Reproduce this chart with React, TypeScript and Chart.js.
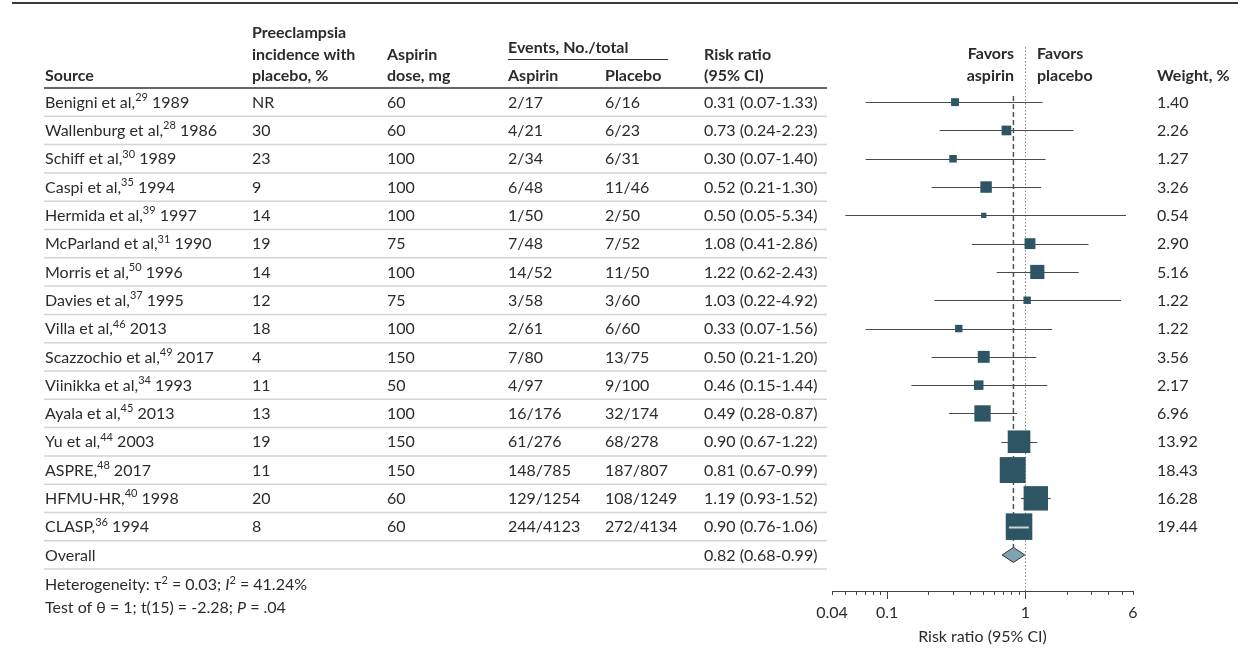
import React, { useEffect, useRef } from "react";
import { Chart, registerables } from "chart.js";

Chart.register(...registerables);

// ---------------- data ----------------
const studyNames = [
  "Benigni et al,", "Wallenburg et al,", "Schiff et al,", "Caspi et al,", "Hermida et al,",
  "McParland et al,", "Morris et al,", "Davies et al,", "Villa et al,", "Scazzochio et al,",
  "Viinikka et al,", "Ayala et al,", "Yu et al,", "ASPRE,", "HFMU-HR,", "CLASP,",
];
const refNumbers = ["29", "28", "30", "35", "39", "31", "50", "37", "46", "49", "34", "45", "44", "48", "40", "36"];
const studyYears = ["1989", "1986", "1989", "1994", "1997", "1990", "1996", "1995", "2013", "2017", "1993", "2013", "2003", "2017", "1998", "1994"];
const placeboIncidence = ["NR", "30", "23", "9", "14", "19", "14", "12", "18", "4", "11", "13", "19", "11", "20", "8"];
const aspirinDose = ["60", "60", "100", "100", "100", "75", "100", "75", "100", "150", "50", "100", "150", "150", "60", "60"];
const aspirinEvents = ["2/17", "4/21", "2/34", "6/48", "1/50", "7/48", "14/52", "3/58", "2/61", "7/80", "4/97", "16/176", "61/276", "148/785", "129/1254", "244/4123"];
const placeboEvents = ["6/16", "6/23", "6/31", "11/46", "2/50", "7/52", "11/50", "3/60", "6/60", "13/75", "9/100", "32/174", "68/278", "187/807", "108/1249", "272/4134"];
const riskRatio = [0.31, 0.73, 0.30, 0.52, 0.50, 1.08, 1.22, 1.03, 0.33, 0.50, 0.46, 0.49, 0.90, 0.81, 1.19, 0.90];
const ciLower = [0.07, 0.24, 0.07, 0.21, 0.05, 0.41, 0.62, 0.22, 0.07, 0.21, 0.15, 0.28, 0.67, 0.67, 0.93, 0.76];
const ciUpper = [1.33, 2.23, 1.40, 1.30, 5.34, 2.86, 2.43, 4.92, 1.56, 1.20, 1.44, 0.87, 1.22, 0.99, 1.52, 1.06];
const weightPct = [1.40, 2.26, 1.27, 3.26, 0.54, 2.90, 5.16, 1.22, 1.22, 3.56, 2.17, 6.96, 13.92, 18.43, 16.28, 19.44];
const overallRR = 0.82;
const overallLow = 0.68;
const overallHigh = 0.99;
const axisTickValues = [0.04, 0.05, 0.06, 0.07, 0.08, 0.09, 0.1, 0.2, 0.3, 0.4, 0.5, 0.6, 0.7, 0.8, 0.9, 1, 2, 3, 4, 5, 6];
const axisMajorTicks = [0.1, 1];
const axisLabelValues = [0.04, 0.1, 1, 6];
const axisLabels = ["0.04", "0.1", "1", "6"];

// ---------------- style ----------------
const FONT = "Lato, 'DejaVu Sans', sans-serif";
const TEXT = "#2b2b2b";
const AXIS = "#444";
const BOX = "#2e5563";
const DIAMOND = "#7fa3b3";
const BODY = `16px ${FONT}`;
const BOLD = `bold 16px ${FONT}`;
const SUP = `11px ${FONT}`;
const ITAL = `italic 16px ${FONT}`;
const COL = { source: 45, incidence: 252, dose: 387, aspEv: 508, plaEv: 605, rr: 704, weight: 1157 };
const TABLE_RIGHT = 827;
const LIGHT_WHISKER_ROWS = [15];

type Part = { t: string; f: string; dy?: number };

function drawParts(ctx: CanvasRenderingContext2D, parts: Part[], x: number, y: number) {
  let cx = x;
  for (const p of parts) {
    ctx.font = p.f;
    ctx.fillText(p.t, cx, y + (p.dy || 0));
    cx += ctx.measureText(p.t).width;
  }
}

function boxSide(w: number) {
  return 1 + 5.8 * Math.sqrt(w);
}

const forestPlugin = {
  id: "forest",
  beforeDatasetsDraw(chart: any) {
    const ctx: CanvasRenderingContext2D = chart.ctx;
    const xs = chart.scales.x;
    const ys = chart.scales.y;
    const area = chart.chartArea;
    ctx.save();
    // top rule
    ctx.strokeStyle = "#3a3a3a";
    ctx.lineWidth = 2;
    ctx.beginPath();
    ctx.moveTo(12, 3);
    ctx.lineTo(1238, 3);
    ctx.stroke();
    // header rule
    ctx.lineWidth = 1.6;
    ctx.strokeStyle = "#333";
    const hy = ys.getPixelForValue(-0.5);
    ctx.beginPath();
    ctx.moveTo(44, hy);
    ctx.lineTo(TABLE_RIGHT, hy);
    ctx.stroke();
    // events underline
    ctx.lineWidth = 1;
    ctx.beginPath();
    ctx.moveTo(COL.aspEv, 59.5);
    ctx.lineTo(668, 59.5);
    ctx.stroke();
    // row separators
    ctx.strokeStyle = "#d4d4d4";
    ctx.lineWidth = 1.5;
    for (let i = 0; i <= studyNames.length; i++) {
      const y = ys.getPixelForValue(i + 0.5);
      ctx.beginPath();
      ctx.moveTo(44, y);
      ctx.lineTo(TABLE_RIGHT, y);
      ctx.stroke();
    }
    // dotted null line
    const x1 = Math.round(xs.getPixelForValue(1)) + 0.5;
    ctx.strokeStyle = "#8a8a8a";
    ctx.lineWidth = 1;
    ctx.setLineDash([1.5, 2]);
    ctx.beginPath();
    ctx.moveTo(x1, 47);
    ctx.lineTo(x1, area.bottom);
    ctx.stroke();
    // dashed overall line
    const xo = xs.getPixelForValue(overallRR);
    const yd = ys.getPixelForValue(studyNames.length);
    ctx.strokeStyle = "#505050";
    ctx.lineWidth = 1.5;
    ctx.setLineDash([5, 3]);
    ctx.beginPath();
    ctx.moveTo(xo, hy + 8);
    ctx.lineTo(xo, yd - 7);
    ctx.stroke();
    ctx.setLineDash([]);
    // whiskers
    ctx.strokeStyle = "#4a4a4a";
    ctx.lineWidth = 1.2;
    for (let i = 0; i < riskRatio.length; i++) {
      const y = Math.round(ys.getPixelForValue(i)) + 0.5;
      ctx.beginPath();
      ctx.moveTo(xs.getPixelForValue(ciLower[i]), y);
      ctx.lineTo(xs.getPixelForValue(ciUpper[i]), y);
      ctx.stroke();
    }
    ctx.restore();
  },
  afterDatasetsDraw(chart: any) {
    const ctx: CanvasRenderingContext2D = chart.ctx;
    const xs = chart.scales.x;
    const ys = chart.scales.y;
    const area = chart.chartArea;
    ctx.save();
    // light whiskers inside large boxes
    ctx.strokeStyle = "rgba(215,225,230,0.9)";
    ctx.lineWidth = 2;
    for (const i of LIGHT_WHISKER_ROWS) {
      const y = Math.round(ys.getPixelForValue(i)) + 0.5;
      ctx.beginPath();
      ctx.moveTo(xs.getPixelForValue(ciLower[i]), y);
      ctx.lineTo(xs.getPixelForValue(ciUpper[i]), y);
      ctx.stroke();
    }
    // diamond
    const yd = ys.getPixelForValue(studyNames.length);
    ctx.beginPath();
    ctx.moveTo(xs.getPixelForValue(overallLow), yd);
    ctx.lineTo(xs.getPixelForValue(overallRR), yd - 7.5);
    ctx.lineTo(xs.getPixelForValue(overallHigh), yd);
    ctx.lineTo(xs.getPixelForValue(overallRR), yd + 7.5);
    ctx.closePath();
    ctx.fillStyle = DIAMOND;
    ctx.fill();
    ctx.strokeStyle = "#333";
    ctx.lineWidth = 1;
    ctx.stroke();
    // major ticks longer
    ctx.strokeStyle = AXIS;
    ctx.lineWidth = 1;
    for (const v of axisMajorTicks) {
      const x = Math.round(xs.getPixelForValue(v)) + 0.5;
      ctx.beginPath();
      ctx.moveTo(x, area.bottom);
      ctx.lineTo(x, area.bottom + 8);
      ctx.stroke();
    }

    // ---------- text ----------
    ctx.fillStyle = TEXT;
    ctx.textBaseline = "middle";
    ctx.textAlign = "left";
    const hdr = (t: string, x: number, y: number, align: CanvasTextAlign = "left") => {
      ctx.font = BOLD;
      ctx.textAlign = align;
      ctx.fillText(t, x, y);
      ctx.textAlign = "left";
    };
    hdr("Source", COL.source, 76);
    hdr("Preeclampsia", COL.incidence, 33);
    hdr("incidence with", COL.incidence, 54.5);
    hdr("placebo, %", COL.incidence, 76);
    hdr("Aspirin", COL.dose, 54.5);
    hdr("dose, mg", COL.dose, 76);
    hdr("Events, No./total", COL.aspEv, 47.5);
    hdr("Aspirin", COL.aspEv, 76);
    hdr("Placebo", COL.plaEv, 76);
    hdr("Risk ratio", COL.rr, 54.5);
    hdr("(95% CI)", COL.rr, 76);
    hdr("Favors", 1014, 53.5, "right");
    hdr("aspirin", 1014, 76, "right");
    hdr("Favors", 1037, 53.5);
    hdr("placebo", 1037, 76);
    hdr("Weight, %", COL.weight, 76);

    ctx.font = BODY;
    for (let i = 0; i < studyNames.length; i++) {
      const y = ys.getPixelForValue(i) + 0.5;
      drawParts(ctx, [
        { t: studyNames[i], f: BODY },
        { t: refNumbers[i], f: SUP, dy: -5 },
        { t: " " + studyYears[i], f: BODY },
      ], COL.source, y);
      ctx.font = BODY;
      ctx.fillText(placeboIncidence[i], COL.incidence, y);
      ctx.fillText(aspirinDose[i], COL.dose, y);
      ctx.fillText(aspirinEvents[i], COL.aspEv, y);
      ctx.fillText(placeboEvents[i], COL.plaEv, y);
      ctx.fillText(`${riskRatio[i].toFixed(2)} (${ciLower[i].toFixed(2)}-${ciUpper[i].toFixed(2)})`, COL.rr, y);
      ctx.fillText(weightPct[i].toFixed(2), COL.weight, y);
    }
    const yo = ys.getPixelForValue(studyNames.length) + 0.5;
    ctx.font = BODY;
    ctx.fillText("Overall", COL.source, yo);
    ctx.fillText(`${overallRR.toFixed(2)} (${overallLow.toFixed(2)}-${overallHigh.toFixed(2)})`, COL.rr, yo);

    drawParts(ctx, [
      { t: "Heterogeneity: \u03c4", f: BODY },
      { t: "2", f: SUP, dy: -5 },
      { t: " = 0.03; ", f: BODY },
      { t: "I", f: ITAL },
      { t: "2", f: SUP, dy: -5 },
      { t: " = 41.24%", f: BODY },
    ], COL.source, 585);
    drawParts(ctx, [
      { t: "Test of \u03b8 = 1; t(15) = -2.28; ", f: BODY },
      { t: "P", f: ITAL },
      { t: " = .04", f: BODY },
    ], COL.source, 608);
    ctx.restore();
  },
};

export default function App() {
  const ref = useRef<HTMLCanvasElement>(null);
  useEffect(() => {
    const canvas = ref.current;
    if (!canvas) return;
    const radii = weightPct.map((w) => boxSide(w) / Math.SQRT2);
    const chart = new Chart(canvas, {
      type: "scatter",
      data: {
        datasets: [
          {
            data: riskRatio.map((v, i) => ({ x: v, y: i })),
            pointStyle: "rect",
            pointRadius: radii,
            pointHoverRadius: radii,
            backgroundColor: BOX,
            borderWidth: 0,
          } as any,
        ],
      },
      options: {
        responsive: false,
        maintainAspectRatio: false,
        animation: false,
        devicePixelRatio: 1,
        events: [],
        layout: { padding: { left: 832, right: 105, top: 88, bottom: 0 } },
        plugins: { legend: { display: false }, tooltip: { enabled: false } },
        scales: {
          x: {
            type: "logarithmic",
            min: 0.04,
            max: 6,
            position: "bottom",
            afterBuildTicks: (s: any) => {
              s.ticks = axisTickValues.map((v) => ({ value: v }));
            },
            afterFit: (s: any) => {
              s.height = 69;
            },
            grid: { drawOnChartArea: false, drawTicks: true, tickLength: 4, color: AXIS, lineWidth: 1 },
            border: { display: true, color: AXIS, width: 1 },
            ticks: {
              autoSkip: false,
              maxRotation: 0,
              minRotation: 0,
              padding: 8,
              color: TEXT,
              font: { family: FONT, size: 16 },
              callback: (v: any) => {
                const k = axisLabelValues.indexOf(Number(v));
                return k >= 0 ? axisLabels[k] : "";
              },
            },
            title: {
              display: true,
              text: "Risk ratio (95% CI)",
              color: TEXT,
              font: { family: FONT, size: 16 },
              padding: { top: 0, bottom: 14 },
            },
          } as any,
          y: { type: "linear", display: false, min: -0.5, max: 17.274, reverse: true },
        },
      },
      plugins: [forestPlugin],
    });
    return () => chart.destroy();
  }, []);
  return (
    <div style={{ position: "absolute", left: 0, top: 0, width: 1238, height: 660, background: "#fff" }}>
      <canvas ref={ref} width={1238} height={660} />
    </div>
  );
}
